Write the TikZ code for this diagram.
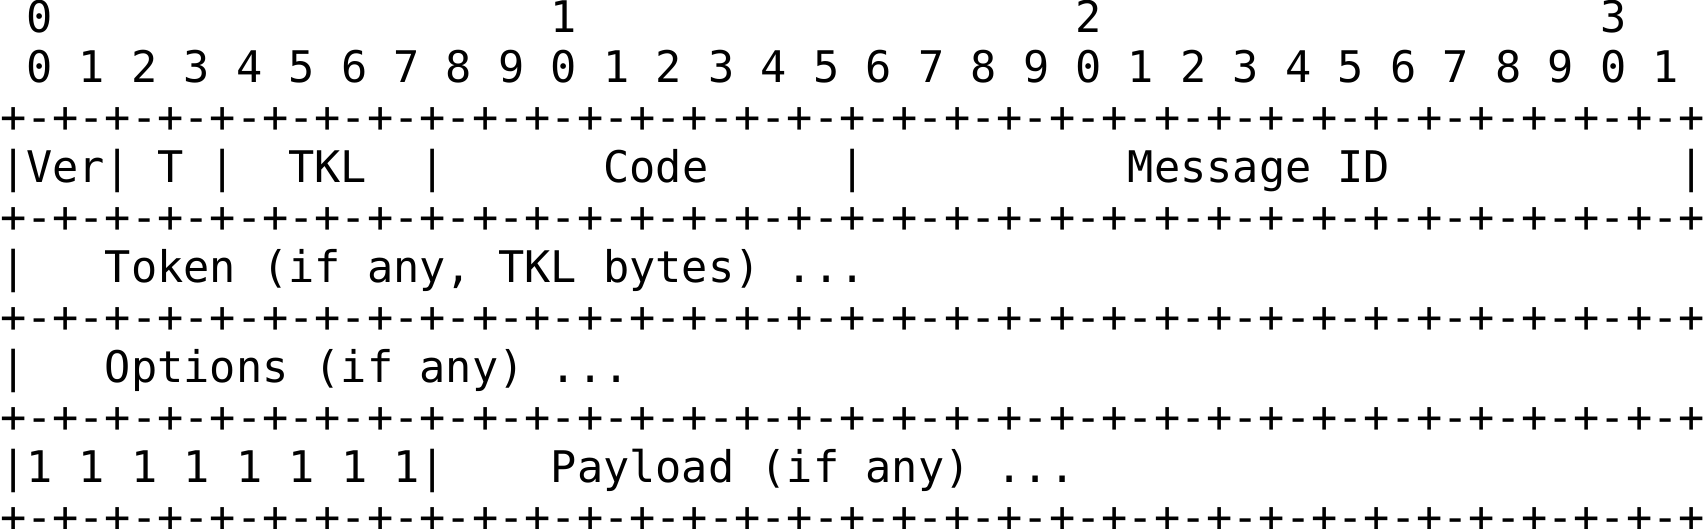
\documentclass[tikz,border=0pt]{standalone}
\usepackage{fontspec}
\setmonofont{DejaVu Sans Mono}
\usetikzlibrary{positioning}
\tikzset{
  ascii/.style={anchor=base west, inner sep=0pt, outer sep=0pt,
    font=\ttfamily\fontsize{10}{12}\selectfont\frenchspacing},
}
\newcommand{\ruleline}{+-+-+-+-+-+-+-+-+-+-+-+-+-+-+-+-+-+-+-+-+-+-+-+-+-+-+-+-+-+-+-+-+}

\begin{document}
\begin{tikzpicture}[x=6.0205pt, y=-11.476pt]
\useasboundingbox (0,-0.66) rectangle (65,9.92);
% bit numbers
\foreach \n in {0,...,3} \node[ascii] (ten\n) at (1+20*\n,0) {\n};
\foreach \i [evaluate=\i as \d using {int(mod(\i,10))}] in {0,...,31}
  \node[ascii] (bit\i) at (1+2*\i,1) {\d};
% separators
\foreach \r in {2,4,6,8,10} \node[ascii] (sep\r) at (0,\r) {\ruleline};
% first word
\foreach \c in {0,4,8,16,32,64} \node[ascii] (bar\c) at (\c,3) {|};
\node[ascii] (ver) at (1,3) {Ver};
\node[ascii] (t) at (6,3) {T};
\node[ascii] (tkl) at (11,3) {TKL};
\node[ascii] (code) at (23,3) {Code};
\node[ascii] (msgid) at (43,3) {Message ID};
% token
\node[ascii] (barT) at (0,5) {|};
\node[ascii] (token) at (4,5) {Token (if any, TKL bytes) ...};
% options
\node[ascii] (barO) at (0,7) {|};
\node[ascii] (options) at (4,7) {Options (if any) ...};
% payload marker
\node[ascii] (barP) at (0,9) {|};
\foreach \k in {0,...,7} \node[ascii] (one\k) at (1+2*\k,9) {1};
\node[ascii] (barM) at (16,9) {|};
\node[ascii] (payload) at (21,9) {Payload (if any) ...};
\end{tikzpicture}
\end{document}
